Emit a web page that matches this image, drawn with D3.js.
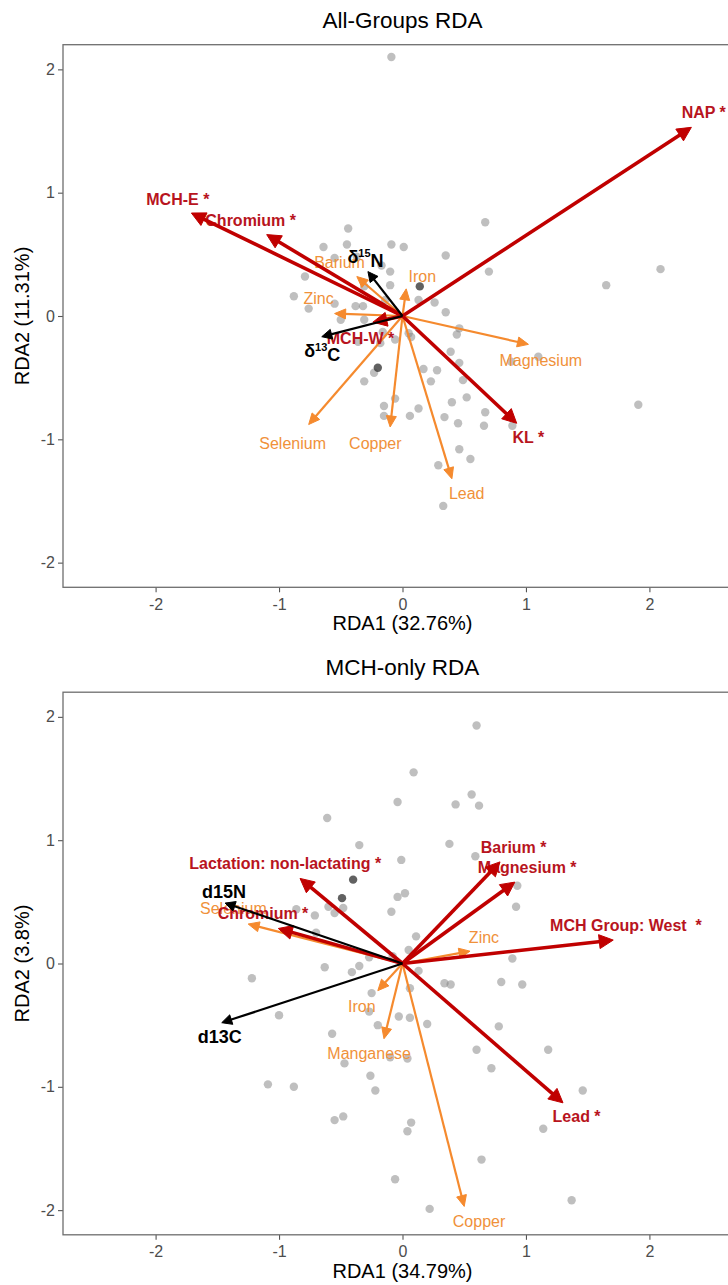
<!DOCTYPE html>
<html>
<head>
<meta charset="utf-8">
<script src="https://cdn.jsdelivr.net/npm/d3@7"></script>
<style>
  body { margin: 0; background: #fff; }
  text { font-family: "Liberation Sans", Arial, sans-serif; }
</style>
</head>
<body>
<div id="chart"></div>
<script>
"use strict";

// axis ticks (both panels)
const xTicks = [-2, -1, 0, 1, 2];
const yTicks = [-2, -1, 0, 1, 2];

// ---- All-Groups RDA ----
const allPoints = [
  [-0.09, 2.10], [-0.44, 0.71], [-0.64, 0.56], [-0.45, 0.58], [-0.09, 0.58], [0.01, 0.56],
  [0.35, 0.49], [0.67, 0.76], [0.70, 0.36], [1.65, 0.25], [2.09, 0.38], [-0.88, 0.16],
  [-0.79, 0.32], [-0.76, 0.06], [-0.55, 0.10], [-0.38, 0.08], [-0.32, 0.08], [-0.31, 0.24],
  [-0.10, 0.25], [-0.10, 0.36], [0.26, 0.11], [0.35, 0.03], [-0.17, 0.41], [-0.37, 0.48],
  [-0.55, 0.47], [-0.50, -0.03], [-0.31, -0.03], [-0.36, -0.21], [-0.18, -0.22], [-0.06, -0.19],
  [0.05, -0.14], [0.46, -0.10], [0.44, -0.15], [0.39, -0.29], [0.46, -0.38], [0.88, -0.37],
  [1.10, -0.33], [-0.23, -0.46], [-0.31, -0.53], [0.17, -0.43], [0.28, -0.44], [0.23, -0.53],
  [0.49, -0.52], [-0.06, -0.67], [-0.15, -0.73], [-0.15, -0.81], [0.06, -0.81], [0.13, -0.75],
  [0.40, -0.70], [0.52, -0.66], [0.67, -0.78], [0.34, -0.82], [0.45, -0.87], [0.66, -0.89],
  [0.89, -0.89], [0.46, -1.08], [0.55, -1.16], [0.29, -1.21], [0.33, -1.54], [1.91, -0.72],
  [-0.16, -0.13], [0.07, -0.17], [-0.14, 0.13], [0.13, 0.13]
];
const allDark = [[0.14, 0.24], [-0.20, -0.42]];

const allOrange = [
  { name: "Barium", x: -0.37, y: 0.32, lx: -0.51, ly: 0.44 },
  { name: "Zinc", x: -0.55, y: 0.02, lx: -0.68, ly: 0.14 },
  { name: "Iron", x: 0.03, y: 0.22, lx: 0.16, ly: 0.32 },
  { name: "Magnesium", x: 1.02, y: -0.23, lx: 1.12, ly: -0.36 },
  { name: "Selenium", x: -0.76, y: -0.88, lx: -0.89, ly: -1.03 },
  { name: "Copper", x: -0.10, y: -0.90, lx: -0.22, ly: -1.03 },
  { name: "Lead", x: 0.40, y: -1.32, lx: 0.52, ly: -1.44 }
];
const allRed = [
  { name: "Chromium *", x: -1.10, y: 0.66, lx: -1.23, ly: 0.78 },
  { name: "MCH-E *", x: -1.71, y: 0.835, lx: -1.82, ly: 0.95 },
  { name: "NAP *", x: 2.34, y: 1.53, lx: 2.44, ly: 1.65 },
  { name: "KL *", x: 0.925, y: -0.87, lx: 1.02, ly: -0.98 },
  { name: "MCH-W *", x: -0.24, y: -0.05, lx: -0.34, ly: -0.18 }
];
const allBlack = [
  { name: "δ15N", x: -0.28, y: 0.36, lx: -0.30, ly: 0.48 },
  { name: "δ13C", x: -0.654, y: -0.168, lx: -0.65, ly: -0.28 }
];

// ---- MCH-only RDA ----
const mchPoints = [
  [0.60, 1.93], [0.09, 1.55], [-0.04, 1.31], [0.56, 1.37], [0.43, 1.29], [0.62, 1.28],
  [-0.61, 1.18], [-0.35, 0.96], [0.38, 0.97], [-0.01, 0.84], [0.59, 0.87], [-0.60, 0.46],
  [-0.48, 0.45], [-0.55, 0.41], [-0.86, 0.44], [-0.71, 0.39], [-0.04, 0.54], [0.02, 0.57],
  [-0.09, 0.42], [0.93, 0.63], [0.92, 0.46], [-0.70, 0.25], [0.11, 0.22], [0.05, 0.11],
  [-0.27, 0.05], [0.89, 0.04], [0.80, -0.15], [0.97, -0.17], [0.34, -0.16], [0.39, -0.17],
  [0.13, -0.06], [0.06, -0.20], [0.20, -0.49], [0.78, -0.51], [-1.22, -0.12], [-0.63, -0.03],
  [-0.41, -0.07], [-0.35, -0.02], [-0.25, -0.24], [-0.27, -0.39], [-1.00, -0.42], [-0.57, -0.57],
  [-0.20, -0.50], [-0.03, -0.43], [0.06, -0.44], [0.60, -0.70], [1.18, -0.70], [0.72, -0.85],
  [-0.47, -0.81], [-0.10, -0.76], [0.04, -0.77], [-0.26, -0.91], [-0.22, -1.03], [-1.09, -0.98],
  [-0.88, -1.00], [-0.55, -1.27], [-0.48, -1.24], [0.07, -1.29], [0.04, -1.36], [1.46, -1.03],
  [1.14, -1.34], [0.64, -1.59], [-0.06, -1.75], [0.22, -1.99], [1.37, -1.92], [-0.08, 0.06]
];
const mchDark = [[-0.40, 0.68], [-0.49, 0.53]];

const mchOrange = [
  { name: "Selenium", x: -1.25, y: 0.32, lx: -1.37, ly: 0.45 },
  { name: "Zinc", x: 0.547, y: 0.10, lx: 0.66, ly: 0.215 },
  { name: "Iron", x: -0.20, y: -0.22, lx: -0.33, ly: -0.345 },
  { name: "Manganese", x: -0.15, y: -0.61, lx: -0.27, ly: -0.73 },
  { name: "Copper", x: 0.50, y: -1.97, lx: 0.62, ly: -2.09 }
];
const mchRed = [
  { name: "Lactation: non-lactating *", x: -0.83, y: 0.69, lx: -0.95, ly: 0.815 },
  { name: "Chromium *", x: -1.006, y: 0.284, lx: -1.13, ly: 0.41 },
  { name: "Magnesium *", x: 0.91, y: 0.66, lx: 1.01, ly: 0.78 },
  { name: "Barium *", x: 0.79, y: 0.824, lx: 0.90, ly: 0.945 },
  { name: "MCH Group: West  *", x: 1.707, y: 0.19, lx: 1.81, ly: 0.31 },
  { name: "Lead *", x: 1.30, y: -1.13, lx: 1.41, ly: -1.24 }
];
const mchBlack = [
  { name: "d15N", x: -1.437, y: 0.49, lx: -1.445, ly: 0.58 },
  { name: "d13C", x: -1.464, y: -0.48, lx: -1.48, ly: -0.59 }
];

const panels = [
  { title: "All-Groups RDA", xlab: "RDA1 (32.76%)", ylab: "RDA2 (11.31%)", top: 44.7,
    points: allPoints, dark: allDark, orange: allOrange, red: allRed, black: allBlack },
  { title: "MCH-only RDA", xlab: "RDA1 (34.79%)", ylab: "RDA2 (3.8%)", top: 692.2,
    points: mchPoints, dark: mchDark, orange: mchOrange, red: mchRed, black: mchBlack }
];

const W = 728, H = 1285;
const panelH = 542.6;
const left = 63, right = 742;

const svg = d3.select("#chart").append("svg")
  .attr("width", W).attr("height", H);

const styles = {
  orange: { stroke: "#F58A2E", text: "#F0913A", width: 2.2, head: 11, half: 5, weight: "normal", size: 16 },
  red:    { stroke: "#C00000", text: "#B81420", width: 3.6, head: 14, half: 7, weight: "bold", size: 16 },
  black:  { stroke: "#000000", text: "#000000", width: 2.2, head: 10, half: 5, weight: "bold", size: 18 }
};

panels.forEach(p => {
  const bottom = p.top + panelH;
  const x = d3.scaleLinear().domain([-2.75, 2.75]).range([left, right]);
  const y = d3.scaleLinear().domain([-2.2, 2.2]).range([bottom, p.top]);
  const g = svg.append("g");

  // title
  g.append("text")
    .attr("x", x(0)).attr("y", p.top - 17)
    .attr("text-anchor", "middle")
    .attr("font-size", 22.5)
    .text(p.title);

  // axes (ggplot style labels: plain hyphen, no decimals)
  const fmt = d => String(d);
  const xAxis = g.append("g")
    .attr("transform", "translate(0," + bottom + ")")
    .call(d3.axisBottom(x).tickValues(xTicks).tickFormat(fmt).tickSize(5).tickPadding(6));
  const yAxis = g.append("g")
    .attr("transform", "translate(" + left + ",0)")
    .call(d3.axisLeft(y).tickValues(yTicks).tickFormat(fmt).tickSize(5).tickPadding(3));
  [xAxis, yAxis].forEach(a => {
    a.select(".domain").remove();
    a.selectAll("line").attr("stroke", "#555").attr("stroke-width", 1.1);
    a.selectAll("text").attr("fill", "#4D4D4D").attr("font-size", 16)
      .style("font-family", "'Liberation Sans', Arial, sans-serif");
  });

  // panel border
  g.append("rect")
    .attr("x", left).attr("y", p.top)
    .attr("width", right - left).attr("height", panelH)
    .attr("fill", "none").attr("stroke", "#6e6e6e").attr("stroke-width", 1.3);

  // axis titles
  g.append("text")
    .attr("x", x(0)).attr("y", bottom + 43)
    .attr("text-anchor", "middle").attr("font-size", 20)
    .text(p.xlab);
  g.append("text")
    .attr("transform", "translate(29," + y(0) + ") rotate(-90)")
    .attr("text-anchor", "middle").attr("font-size", 20)
    .text(p.ylab);

  // sample scores
  g.append("g").selectAll("circle")
    .data(p.points).enter().append("circle")
    .attr("cx", d => x(d[0])).attr("cy", d => y(d[1]))
    .attr("r", 4.2).attr("fill", "#808080").attr("fill-opacity", 0.5);
  g.append("g").selectAll("circle")
    .data(p.dark).enter().append("circle")
    .attr("cx", d => x(d[0])).attr("cy", d => y(d[1]))
    .attr("r", 4.2).attr("fill", "#3a3a3a").attr("fill-opacity", 0.8);

  // biplot arrows
  const drawArrow = (d, s) => {
    const x0 = x(0), y0 = y(0), x1 = x(d.x), y1 = y(d.y);
    const len = Math.hypot(x1 - x0, y1 - y0);
    const ux = (x1 - x0) / len, uy = (y1 - y0) / len;
    const bx = x1 - ux * s.head, by = y1 - uy * s.head;
    g.append("line")
      .attr("x1", x0).attr("y1", y0)
      .attr("x2", bx + ux * 1.5).attr("y2", by + uy * 1.5)
      .attr("stroke", s.stroke).attr("stroke-width", s.width);
    g.append("path")
      .attr("d", "M" + x1 + "," + y1 +
        "L" + (bx - uy * s.half) + "," + (by + ux * s.half) +
        "L" + (bx + uy * s.half) + "," + (by - ux * s.half) + "Z")
      .attr("fill", s.stroke).attr("stroke", s.stroke)
      .attr("stroke-width", 1).attr("stroke-linejoin", "miter");

    const t = g.append("text")
      .attr("x", x(d.lx)).attr("y", y(d.ly))
      .attr("dy", "0.36em")
      .attr("text-anchor", "middle")
      .attr("fill", s.text)
      .attr("font-size", s.size)
      .attr("font-weight", s.weight)
      .style("white-space", "pre");
    const m = d.name.match(/^(δ)(\d+)(\w)$/);
    if (m) {
      t.append("tspan").text(m[1]);
      t.append("tspan").attr("font-size", 11).attr("dy", "-0.55em").text(m[2]);
      t.append("tspan").attr("dy", "0.55em").text(m[3]);
    } else {
      t.text(d.name);
    }
  };

  p.orange.forEach(d => drawArrow(d, styles.orange));
  p.red.forEach(d => drawArrow(d, styles.red));
  p.black.forEach(d => drawArrow(d, styles.black));
});
</script>
</body>
</html>
